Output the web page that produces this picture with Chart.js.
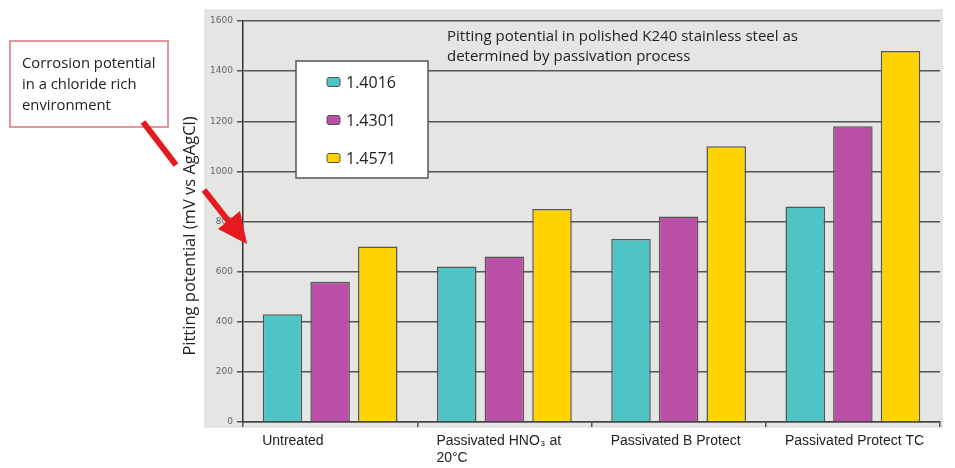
<!DOCTYPE html>
<html>
<head>
<meta charset="utf-8">
<script src="https://cdn.jsdelivr.net/npm/chart.js@4"></script>
<style>
  html, body { margin: 0; padding: 0; background: #fff; }
  #wrap { width: 955px; height: 468px; }
</style>
</head>
<body>
<div id="wrap"><canvas id="chart" width="955" height="468"></canvas></div>
<script>
// ── Données ──
const categories = [
    'Untreated',
    ['Passivated HNO\u2083 at', '20\u00b0C'],
    'Passivated B Protect',
    'Passivated Protect TC'
];
const seriesNames = ['1.4016', '1.4301', '1.4571'];
const steel14016 = [430, 620, 730, 860];
const steel14301 = [560, 660, 820, 1180];
const steel14571 = [700, 850, 1100, 1480];
const yTicks = [0, 200, 400, 600, 800, 1000, 1200, 1400, 1600];

const titleLines = [
    'Pitting potential in polished K240 stainless steel as',
    'determined by passivation process'
];
const noteLines = ['Corrosion potential', 'in a chloride rich', 'environment'];
const yTitle = 'Pitting potential (mV vs AgAgCl)';

const colors = ['#4ec4c6', '#b94fa6', '#ffd300'];
const FONT = '"Open Sans", "DejaVu Sans", sans-serif';

// ── Fond gris + annotations ──
const decor = {
    id: 'decor',
    beforeDraw(chart) {
        const ctx = chart.ctx;
        const a = chart.chartArea;
        ctx.save();
        ctx.fillStyle = '#e5e5e3';
        ctx.fillRect(a.left - 38, a.top - 11, a.right - a.left + 40, a.bottom - a.top + 16);
        ctx.strokeStyle = '#d8d8d6';
        ctx.lineWidth = 1;
        ctx.strokeRect(a.left - 38, a.top - 11, a.right - a.left + 40, a.bottom - a.top + 16);
        ctx.restore();
    },
    afterDraw(chart) {
        const ctx = chart.ctx;
        const a = chart.chartArea;
        ctx.save();

        // titre dans le graphique
        ctx.fillStyle = '#222';
        ctx.font = '15px ' + FONT;
        ctx.textBaseline = 'middle';
        ctx.textAlign = 'left';
        titleLines.forEach((t, i) => ctx.fillText(t, a.left + 204, a.top + 16 + i * 20));

        // titre de l'axe Y
        ctx.save();
        ctx.translate(190, 236);
        ctx.rotate(-Math.PI / 2);
        ctx.textAlign = 'center';
        ctx.font = '16.5px ' + FONT;
        ctx.fillText(yTitle, 0, 0);
        ctx.restore();

        // légende
        const lx = a.left + 53, ly = a.top + 40;
        ctx.fillStyle = '#fff';
        ctx.fillRect(lx, ly, 132, 117);
        ctx.strokeStyle = '#555';
        ctx.lineWidth = 1.5;
        ctx.strokeRect(lx, ly, 132, 117);
        ctx.font = '16px ' + FONT;
        chart.data.datasets.forEach((ds, i) => {
            const cy = ly + 21 + i * 38;
            ctx.fillStyle = ds.backgroundColor;
            ctx.strokeStyle = '#555';
            ctx.lineWidth = 1;
            ctx.beginPath();
            ctx.roundRect(lx + 31, cy - 4.5, 13, 9, 2);
            ctx.fill();
            ctx.stroke();
            ctx.fillStyle = '#222';
            ctx.fillText(ds.label, lx + 50, cy + 1);
        });

        // encadré rouge
        ctx.fillStyle = '#fff';
        ctx.fillRect(10, 41, 158, 86);
        ctx.strokeStyle = '#d9757c';
        ctx.lineWidth = 1.5;
        ctx.strokeRect(10, 41, 158, 86);
        ctx.fillStyle = '#222';
        ctx.font = '14.8px ' + FONT;
        noteLines.forEach((t, i) => ctx.fillText(t, 22, 64 + i * 21));

        // flèche rouge
        ctx.strokeStyle = '#e5191e';
        ctx.fillStyle = '#e5191e';
        ctx.lineWidth = 6;
        ctx.lineCap = 'butt';
        ctx.beginPath();
        ctx.moveTo(143, 122);
        ctx.lineTo(176, 165);
        ctx.moveTo(204, 190);
        ctx.lineTo(230, 223);
        ctx.stroke();
        ctx.beginPath();
        ctx.moveTo(247, 244);
        ctx.lineTo(218, 229);
        ctx.lineTo(240, 211);
        ctx.closePath();
        ctx.fill();

        ctx.restore();
    }
};

const ctx = document.getElementById('chart');

new Chart(ctx, {
    type: 'bar',
    data: {
        labels: categories,
        datasets: [steel14016, steel14301, steel14571].map((data, i) => ({
            label: seriesNames[i],
            data,
            backgroundColor: colors[i],
            borderColor: '#555',
            borderWidth: 1.5,
            categoryPercentage: 0.82,
            barPercentage: 0.83
        }))
    },
    options: {
        responsive: false,
        animation: false,
        layout: { padding: { left: 180, top: 21, right: 15, bottom: 0 } },
        plugins: {
            legend: { display: false },
            tooltip: { enabled: false }
        },
        scales: {
            x: {
                afterFit: s => { s.height = 46; s.paddingLeft = 0; s.paddingRight = 0; },
                grid: { drawOnChartArea: false, drawTicks: true, tickLength: 5, color: '#555', lineWidth: 1.5 },
                border: { color: '#444', width: 1.5 },
                ticks: {
                    color: '#222',
                    font: { family: '"Liberation Sans", Arial, sans-serif', size: 14 },
                    align: 'start',
                    labelOffset: -68,
                    padding: 6,
                    maxRotation: 0,
                    autoSkip: false
                }
            },
            y: {
                min: 0,
                max: 1600,
                afterFit: s => { s.width = 63; s.paddingTop = 0; s.paddingBottom = 0; },
                afterBuildTicks: s => { s.ticks = yTicks.map(v => ({ value: v })); },
                grid: { color: '#555', lineWidth: 1.5, tickLength: 6 },
                border: { color: '#333', width: 1.5 },
                ticks: {
                    color: '#666',
                    font: { family: '"DejaVu Sans", sans-serif', size: 9 },
                    padding: 4,
                    callback: v => String(v)
                },
                title: { display: false }
            }
        }
    },
    plugins: [decor]
});
</script>
</body>
</html>
